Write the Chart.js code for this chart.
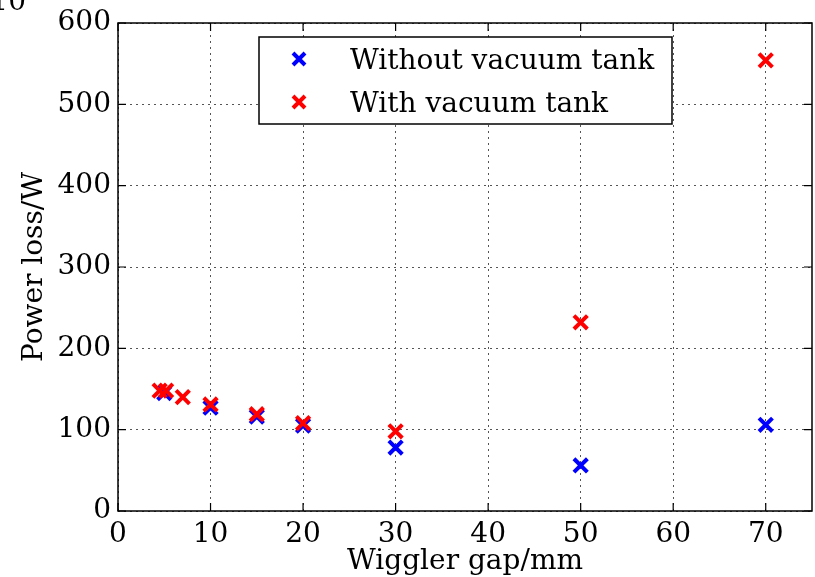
<!DOCTYPE html>
<html><head><meta charset="utf-8">
<script src="https://cdn.jsdelivr.net/npm/chart.js@4/dist/chart.umd.min.js"></script>
<style>html,body{margin:0;padding:0;background:#fff}#wrap{width:815px;height:577px;position:relative}</style>
</head><body><div id="wrap"><canvas id="c" width="815" height="577"></canvas></div>
<script>
const seriesNames = ["Without vacuum tank", "With vacuum tank"];
const gapWithout = [5, 10, 15, 20, 30, 50, 70];
const lossWithout = [145, 127, 116, 105, 78, 56, 106];
const gapWith = [4.5, 5.2, 7, 10, 15, 20, 30, 50, 70];
const lossWith = [148, 148, 140, 131, 119, 108, 98, 232, 554];
const xTickValues = [0, 10, 20, 30, 40, 50, 60, 70];
const yTickValues = [0, 100, 200, 300, 400, 500, 600];
const xTitle = "Wiggler gap/mm";
const yTitle = "Power loss/W";
const cornerText = "10";

const FONT = "'DejaVu Serif', serif";
const toPts = (xs, ys) => xs.map((x, i) => ({x: x, y: ys[i]}));

const framePlugin = {
  id: 'frame',
  afterDraw(chart) {
    const ctx = chart.ctx, a = chart.chartArea;
    const xs = chart.scales.x, ys = chart.scales.y;
    ctx.save();
    ctx.strokeStyle = '#000';
    ctx.lineWidth = 1.5;
    ctx.strokeRect(a.left, a.top, a.right - a.left, a.bottom - a.top);
    ctx.lineWidth = 1.2;
    const L = 8;
    ctx.beginPath();
    xTickValues.forEach(v => {
      const px = xs.getPixelForValue(v);
      ctx.moveTo(px, a.bottom); ctx.lineTo(px, a.bottom - L);
      ctx.moveTo(px, a.top); ctx.lineTo(px, a.top + L);
    });
    yTickValues.forEach(v => {
      const py = ys.getPixelForValue(v);
      ctx.moveTo(a.left, py); ctx.lineTo(a.left + L, py);
      ctx.moveTo(a.right, py); ctx.lineTo(a.right - L, py);
    });
    ctx.stroke();

    // legend
    const bx = 259, by = 37, bw = 413, bh = 87;
    ctx.fillStyle = '#fff';
    ctx.fillRect(bx, by, bw, bh);
    ctx.lineWidth = 1.5;
    ctx.strokeStyle = '#000';
    ctx.strokeRect(bx, by, bw, bh);
    const items = [
      {name: seriesNames[0], color: '#0000ff', y: 59},
      {name: seriesNames[1], color: '#ff0000', y: 102}
    ];
    items.forEach(it => {
      ctx.strokeStyle = it.color;
      ctx.lineWidth = 4;
      ctx.beginPath();
      const mx = 299, d = 6;
      ctx.moveTo(mx - d, it.y - d); ctx.lineTo(mx + d, it.y + d);
      ctx.moveTo(mx - d, it.y + d); ctx.lineTo(mx + d, it.y - d);
      ctx.stroke();
      ctx.fillStyle = '#000';
      ctx.font = "28px " + FONT;
      ctx.textBaseline = 'alphabetic';
      ctx.textAlign = 'left';
      ctx.fillText(it.name, 350, it.y + 10);
    });

    // corner fragment
    ctx.fillStyle = '#000';
    ctx.font = "28px " + FONT;
    ctx.textAlign = 'right';
    ctx.textBaseline = 'alphabetic';
    ctx.fillText(cornerText, 26, 10);
    ctx.restore();
  }
};

new Chart(document.getElementById('c'), {
  type: 'scatter',
  data: {
    datasets: [
      {label: seriesNames[0], data: toPts(gapWithout, lossWithout), order: 2,
       pointStyle: 'crossRot', pointRadius: 9.5, pointHoverRadius: 9.5, pointBorderWidth: 4,
       borderColor: '#0000ff', backgroundColor: '#0000ff', showLine: false},
      {label: seriesNames[1], data: toPts(gapWith, lossWith), order: 1,
       pointStyle: 'crossRot', pointRadius: 9.5, pointHoverRadius: 9.5, pointBorderWidth: 4,
       borderColor: '#ff0000', backgroundColor: '#ff0000', showLine: false}
    ]
  },
  options: {
    responsive: false,
    animation: false,
    events: [],
    layout: {autoPadding: false, padding: {top: 23, right: 3, left: 0, bottom: 0}},
    plugins: {legend: {display: false}, tooltip: {enabled: false}},
    scales: {
      x: {
        type: 'linear', min: 0, max: 75,
        afterBuildTicks: s => { s.ticks = xTickValues.map(v => ({value: v})); },
        afterFit: s => { s.height = 66; s.paddingLeft = 0; s.paddingRight = 0; },
        grid: {color: '#555', lineWidth: 1, drawTicks: false},
        border: {display: false, dash: [2, 4]},
        ticks: {color: '#000', font: {family: FONT, size: 28}, padding: 7, maxRotation: 0},
        title: {display: true, text: xTitle, color: '#000', font: {family: FONT, size: 28}, padding: {top: 0, bottom: -2}}
      },
      y: {
        type: 'linear', min: 0, max: 600,
        afterBuildTicks: s => { s.ticks = yTickValues.map(v => ({value: v})); },
        afterFit: s => { s.width = 118; s.paddingTop = 0; s.paddingBottom = 0; },
        grid: {color: '#555', lineWidth: 1, drawTicks: false},
        border: {display: false, dash: [2, 4]},
        ticks: {color: '#000', font: {family: FONT, size: 28}, padding: 7},
        title: {display: true, text: yTitle, color: '#000', font: {family: FONT, size: 28}, padding: {top: 18, bottom: 0}}
      }
    }
  },
  plugins: [framePlugin]
});
</script>
</body></html>
